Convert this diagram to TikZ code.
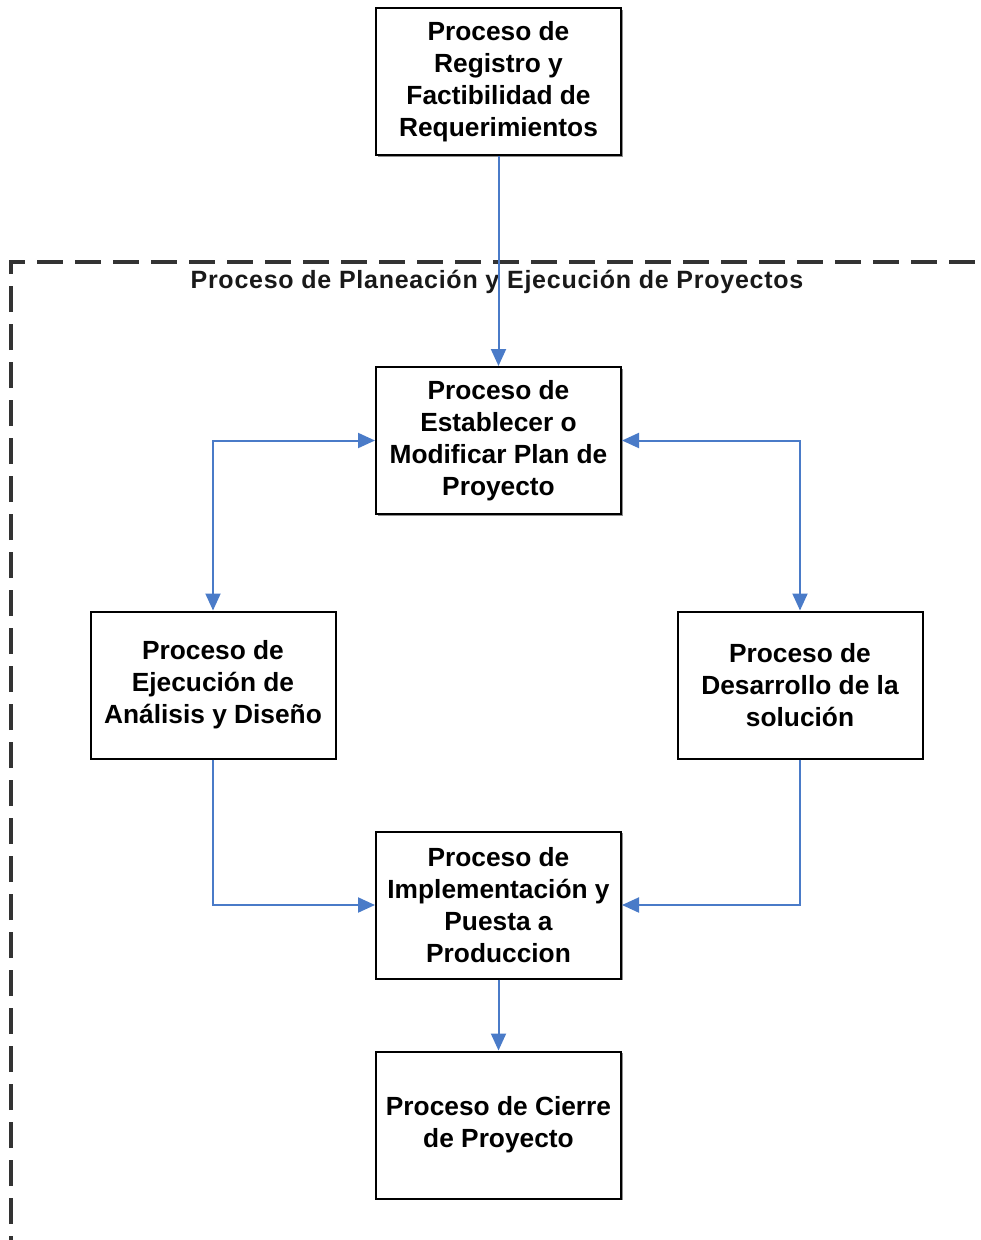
\documentclass[tikz,border=0pt]{standalone}
\usepackage{fontspec}
\setmainfont{Liberation Sans}
\usetikzlibrary{arrows.meta,shadows}
\definecolor{flowblue}{HTML}{4A7BC8}
\definecolor{framegray}{HTML}{333333}
\tikzset{
  procbox/.style={draw=black, line width=2pt, fill=white,
    minimum width=245pt, minimum height=147pt, align=center,
    font=\fontsize{26.3}{32}\selectfont\bfseries,
    drop shadow={shadow xshift=1.8pt, shadow yshift=-1.8pt, fill=black!55, opacity=0.8}},
  flow/.style={draw=flowblue, line width=2pt, -{Triangle[length=17pt,width=15pt]}},
  twoway/.style={flow, {Triangle[length=17pt,width=15pt]}-{Triangle[length=17pt,width=15pt]}},
  groupframe/.style={draw=framegray, line width=3.5pt, dash pattern=on 26pt off 12pt},
  grouptitle/.style={font=\fontsize{25}{28}\selectfont\bfseries\addfontfeature{LetterSpace=3}, text=black!90}
}
\begin{document}
\begin{tikzpicture}[x=1pt,y=-1pt]
  \useasboundingbox (0,0) rectangle (981,1240);
  % dashed frame of the planning and execution group
  \draw[groupframe] (11,1262) -- (11,262) -- (1000,262);
  \node[grouptitle] (grp) at (497,282) {Proceso de Planeación y Ejecución de Proyectos};

  \node[procbox] (reg)  at (498.5,81.5) {Proceso de\\Registro y\\Factibilidad de\\Requerimientos};
  \node[procbox] (plan) at (498.5,440.5) {Proceso de\\Establecer o\\Modificar Plan de\\Proyecto};
  \node[procbox] (ana)  at (213,685) {Proceso de\\Ejecución de\\Análisis y Diseño};
  \node[procbox] (dev)  at (800,685) {Proceso de\\Desarrollo de la\\solución};
  \node[procbox] (impl) at (498.5,905) {Proceso de\\Implementación y\\Puesta a\\Produccion};
  \node[procbox] (cie)  at (498.5,1125) {Proceso de Cierre\\de Proyecto};

  \draw[flow] (reg.south) -- (plan.north);
  \draw[twoway] (plan.west) -| (ana.north);
  \draw[twoway] (plan.east) -| (dev.north);
  \draw[flow] (ana.south) |- (impl.west);
  \draw[flow] (dev.south) |- (impl.east);
  \draw[flow] (impl.south) -- (cie.north);
\end{tikzpicture}
\end{document}
